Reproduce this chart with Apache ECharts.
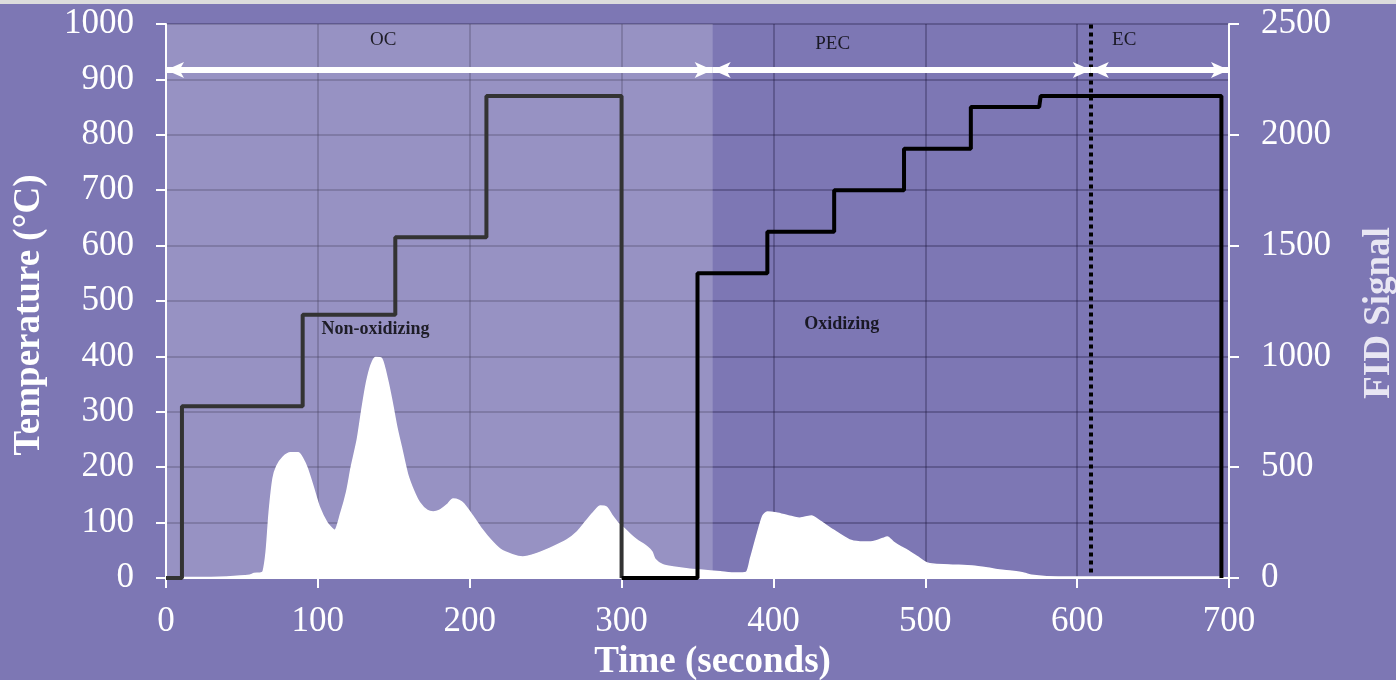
<!DOCTYPE html>
<html>
<head>
<meta charset="utf-8">
<script src="https://cdn.jsdelivr.net/npm/echarts@6/dist/echarts.min.js"></script>
<style>
  html, body { margin: 0; padding: 0; background: #dcdcdc; }
  #chart { position: absolute; left: 0; top: 4px; width: 1396px; height: 676px; background: #7d77b4; }
</style>
</head>
<body>
<div id="chart"></div>
<script>
// Oven temperature program, non-oxidizing (He) stage: [time s, °C]
const tempNonOx = [[0,0],[10.5,0],[10.5,310],[90,310],[90,475],[151,475],[151,615],[211,615],[211,870],[300,870],[300,0]];
// Cool-down and oxidizing (He/O2) stage
const tempOx = [[300,0],[350,0],[350,550],[396,550],[396,625],[440,625],[440,700],[486,700],[486,775],[530,775],[530,850],[575,850],[576,870],[695,870],[695,0]];

// FID signal trace
const fidTime = [0,20,40,55,58,62,64,66,68,70.5,73,77,82,87,90,93,97,101,106,111,115,119,122,126,129,132,135,138,142,146,149,152,155,159,163,167,172,176,180,185,189,193,196,202,208,214,220,228,235,244,253,264,271,277,282,286,290,294,298,301,306,310,317,320,322,327,334,345,352,365,375,382,385,389,393,396,402,410,417,421,425,431,439,450,457,464,468,472,475,479,484,488,495,501,506,520,531,541,549,557,565,570,580,600,650,695];
const fidValue = [3,2,5,12,20,22,30,120,300,450,505,545,565,565,540,495,410,320,250,215,290,390,500,625,760,880,960,995,990,890,790,680,590,470,395,340,305,298,305,330,356,350,335,280,220,170,130,105,95,110,135,172,210,260,300,325,320,280,245,228,195,172,140,118,85,60,50,40,36,28,22,25,90,190,280,298,293,280,270,275,280,255,218,172,163,162,168,178,185,162,140,126,95,68,62,58,54,45,36,30,22,12,6,5,5,5];

// Carbon fraction split points (s) and arrow height (°C)
const fractionBounds = [0, 360, 609, 700];
const arrowLevel = 917;
const ecSplit = 609;

// Text annotations [time s, °C, text]
const fractionLabels = [[143, 971, 'OC'], [439, 964, 'PEC'], [631, 971, 'EC']];
const phaseLabels = [[138, 449, 'Non-oxidizing'], [445, 458, 'Oxidizing']];

const serif = "'Liberation Serif', 'Times New Roman', serif";
const white = '#ffffff';
const gridColor = 'rgba(25,20,60,0.3)';

const chart = echarts.init(document.getElementById('chart'), null, { renderer: 'canvas' });

const fidData = fidTime.map((t, i) => [t, fidValue[i]]);

const arrowLines = [];
for (let i = 0; i < fractionBounds.length - 1; i++) {
  arrowLines.push([{ coord: [fractionBounds[i], arrowLevel] }, { coord: [fractionBounds[i + 1], arrowLevel] }]);
}

const plain = v => String(v);

const axisCommon = {
  axisLine: { show: true, lineStyle: { color: white, width: 2 } },
  axisTick: { show: true, inside: false, length: 10, lineStyle: { color: white, width: 2 } },
  axisLabel: { color: white, fontFamily: serif, fontSize: 35, formatter: plain },
  nameTextStyle: { color: white, fontFamily: serif, fontSize: 37, fontWeight: 'bold' }
};

chart.setOption({
  animation: false,
  backgroundColor: '#7d77b4',
  grid: { left: 166, right: 167, top: 20, bottom: 102, containLabel: false, outerBoundsMode: 'none' },
  xAxis: {
    type: 'value', min: 0, max: 700, interval: 100,
    name: 'Time (seconds)', nameLocation: 'middle', nameGap: 63,
    ...axisCommon,
    axisLabel: { ...axisCommon.axisLabel, margin: 26 },
    nameTextStyle: { ...axisCommon.nameTextStyle, padding: [0, 0, 0, 30] },
    splitLine: { show: true, lineStyle: { color: gridColor, width: 2 } }
  },
  yAxis: [
    {
      type: 'value', min: 0, max: 1000, interval: 100,
      name: 'Temperature (°C)', nameLocation: 'middle', nameGap: 118, nameRotate: 90,
      ...axisCommon,
      axisLabel: { ...axisCommon.axisLabel, margin: 32 },
      nameTextStyle: { ...axisCommon.nameTextStyle, padding: [0, 28, 0, 0] },
      splitLine: { show: true, lineStyle: { color: gridColor, width: 2 } }
    },
    {
      type: 'value', min: 0, max: 2500, interval: 500, position: 'right',
      name: 'FID Signal', nameLocation: 'middle', nameGap: 132, nameRotate: 90,
      ...axisCommon,
      axisLabel: { ...axisCommon.axisLabel, margin: 32 },
      nameTextStyle: { ...axisCommon.nameTextStyle, color: '#e8e6f3', padding: [0, 24, 0, 0] },
      splitLine: { show: false }
    }
  ],
  series: [
    {
      name: 'fractions', type: 'line', data: [], z: 1,
      markArea: {
        silent: true,
        itemStyle: { color: 'rgba(255,255,255,0.2)' },
        data: [[{ coord: [fractionBounds[0], 0] }, { coord: [fractionBounds[1], 1000] }]]
      }
    },
    {
      name: 'FID', type: 'line', yAxisIndex: 1, data: fidData, z: 3,
      smooth: 0.25, showSymbol: false, symbol: 'none',
      lineStyle: { color: white, width: 1.5 },
      areaStyle: { color: white, opacity: 1 }
    },
    {
      name: 'Temperature (He)', type: 'line', data: tempNonOx, z: 4,
      showSymbol: false, symbol: 'none',
      lineStyle: { color: '#333333', width: 4 }
    },
    {
      name: 'Temperature (He/O2)', type: 'line', data: tempOx, z: 4,
      showSymbol: false, symbol: 'none',
      lineStyle: { color: '#000000', width: 4 },
      markLine: {
        silent: true, symbol: ['none', 'none'], label: { show: false },
        lineStyle: { color: '#000000', width: 4, type: [4, 4] },
        data: [[{ coord: [ecSplit, 10] }, { coord: [ecSplit, 1000] }]]
      }
    },
    {
      name: 'arrows', type: 'line', data: [], z: 5,
      markLine: {
        silent: true, symbol: ['arrow', 'arrow'], symbolSize: [12, 18],
        label: { show: false },
        lineStyle: { color: white, width: 6, type: 'solid' },
        data: arrowLines
      }
    },
    {
      name: 'fraction labels', type: 'scatter', data: fractionLabels, z: 6,
      symbolSize: 0, silent: true,
      label: {
        show: true, position: 'inside', formatter: p => p.data[2],
        color: '#000000', fontFamily: serif, fontSize: 19
      }
    },
    {
      name: 'phase labels', type: 'scatter', data: phaseLabels, z: 6,
      symbolSize: 0, silent: true,
      label: {
        show: true, position: 'inside', formatter: p => p.data[2],
        color: '#000000', fontFamily: serif, fontSize: 18, fontWeight: 'bold'
      }
    }
  ]
});
</script>
</body>
</html>
